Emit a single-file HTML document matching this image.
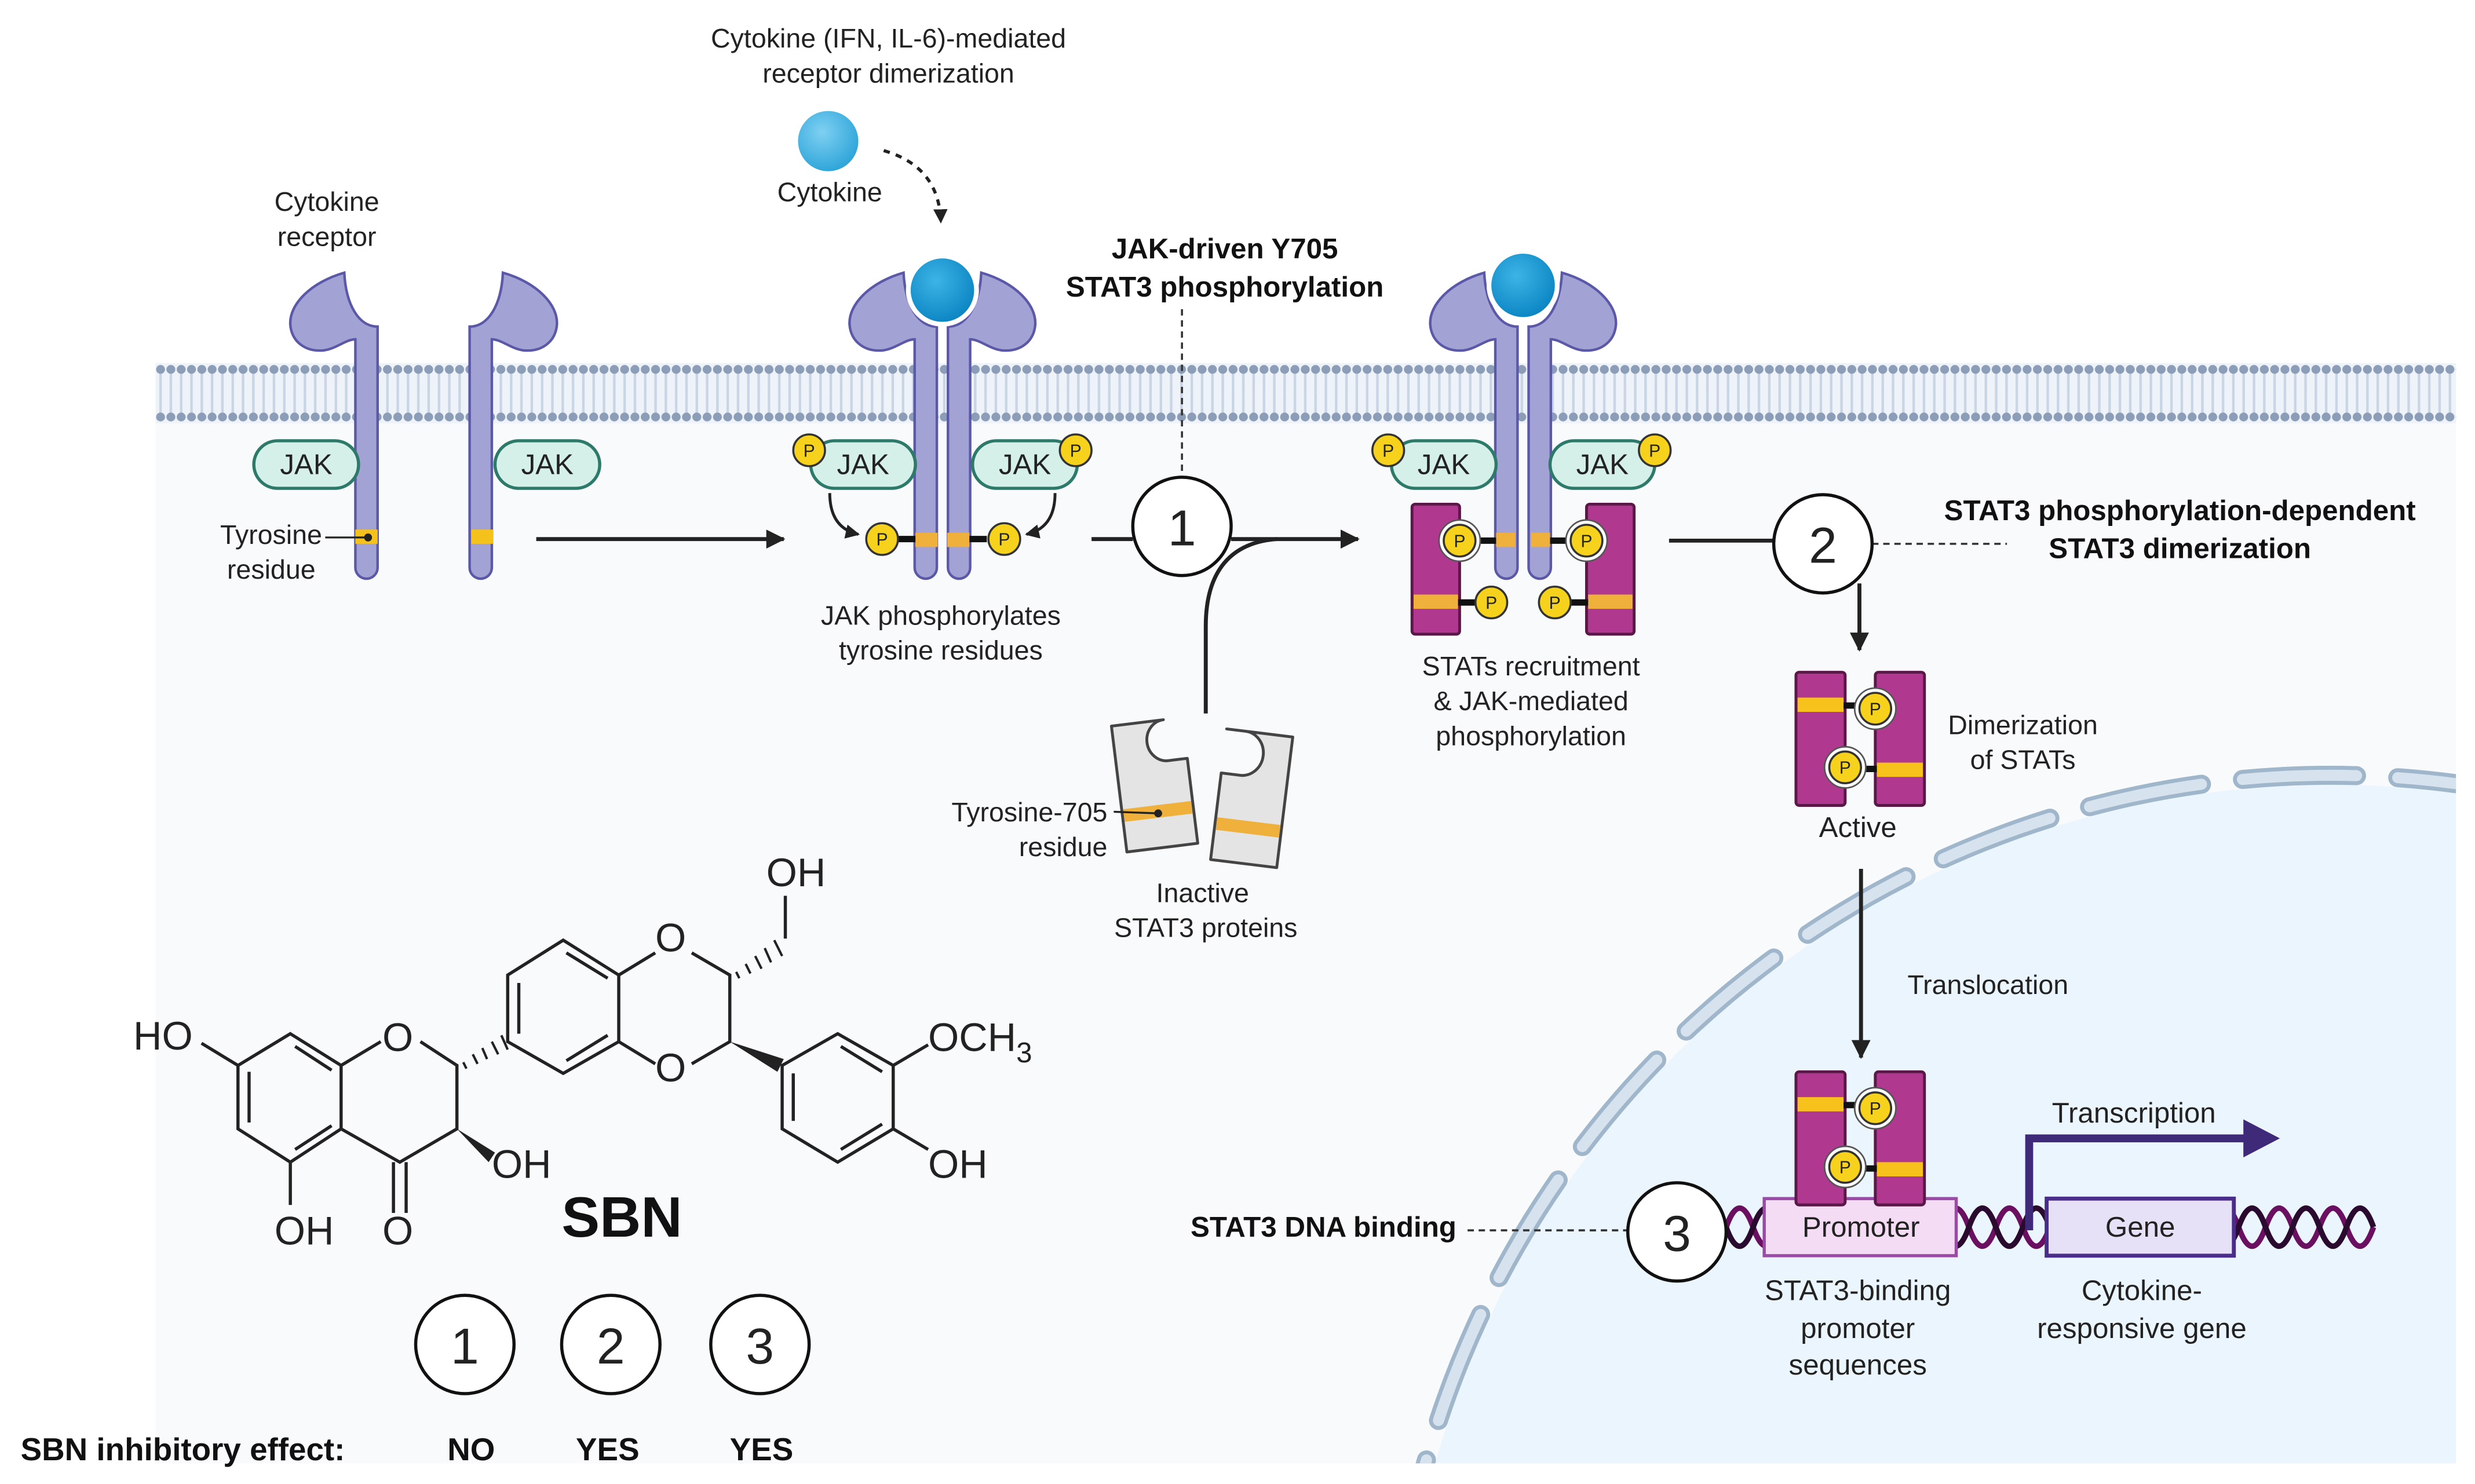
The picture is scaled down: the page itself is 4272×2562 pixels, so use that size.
<!DOCTYPE html>
<html><head><meta charset="utf-8"><style>
html,body{margin:0;padding:0;background:#fff;width:4272px;height:2562px;overflow:hidden}
svg{display:block}
text{font-family:"Liberation Sans",Arial,sans-serif;fill:#222}
.b{font-weight:bold;fill:#111}
</style></head><body>
<svg width="4272" height="2562" viewBox="0 0 1560 936" preserveAspectRatio="none" xmlns="http://www.w3.org/2000/svg">
<defs>
<marker id="ah" markerWidth="14" markerHeight="14" refX="11" refY="6" orient="auto" markerUnits="userSpaceOnUse"><path d="M0,0 L12,6 L0,12 Z" fill="#222"/></marker>
<marker id="ahs" markerWidth="10" markerHeight="10" refX="8" refY="4.5" orient="auto" markerUnits="userSpaceOnUse"><path d="M0,0 L9,4.5 L0,9 Z" fill="#222"/></marker>
<pattern id="dots" x="98" y="0" width="6.5" height="936" patternUnits="userSpaceOnUse">
<line x1="3.2" y1="233" x2="3.2" y2="248" stroke="#c9d5e4" stroke-width="1.6"/>
<line x1="3.2" y1="248" x2="3.2" y2="263" stroke="#c9d5e4" stroke-width="1.6"/>
<circle cx="3.2" cy="233" r="2.8" fill="#8c9db7"/>
<circle cx="3.2" cy="263" r="2.8" fill="#8c9db7"/>
</pattern>
<clipPath id="cell"><rect x="98" y="248" width="1450" height="675"/></clipPath>
<radialGradient id="cyt" cx="0.4" cy="0.35" r="0.7"><stop offset="0" stop-color="#7fd0f2"/><stop offset="1" stop-color="#2aa3d8"/></radialGradient>
<radialGradient id="cyt2" cx="0.4" cy="0.35" r="0.7"><stop offset="0" stop-color="#3cb4e6"/><stop offset="1" stop-color="#0a84c2"/></radialGradient>
<g id="recL">
<path d="M217,172 C196,178 182,192 183,205 C184,216 193,222 204,221 C212,220 218,214 224,214 L224,358 A7,7 0 0 0 238,358 L238,206 C226,206 218,192 217,172 Z" fill="#a3a2d4" stroke="#5b58a8" stroke-width="1.6"/>
</g>
<g id="P"><circle r="10" fill="#f6d21c" stroke="#333" stroke-width="1.3"/><text y="4" text-anchor="middle" font-size="11" fill="#222">P</text></g>
</defs>

<rect x="98" y="248" width="1450" height="675" fill="#f8fafc"/>
<g clip-path="url(#cell)">
<circle cx="1469" cy="1081" r="586" fill="#ebf5fd"/>
<circle cx="1469" cy="1081" r="592" fill="none" stroke="#9fb6cb" stroke-width="12" stroke-dasharray="72 26" stroke-dashoffset="10" stroke-linecap="round"/>
<circle cx="1469" cy="1081" r="592" fill="none" stroke="#d6e3ef" stroke-width="7" stroke-dasharray="72 26" stroke-dashoffset="10" stroke-linecap="round"/>
</g>

<rect x="98" y="229" width="1450" height="38" fill="#eef3f9"/>
<rect x="98" y="229" width="1450" height="38" fill="url(#dots)"/>

<text x="560" y="30" font-size="17" text-anchor="middle">Cytokine (IFN, IL-6)-mediated</text>
<text x="560" y="52" font-size="17" text-anchor="middle">receptor dimerization</text>
<circle cx="522" cy="89" r="19" fill="url(#cyt)"/>
<text x="523" y="127" font-size="17" text-anchor="middle">Cytokine</text>
<path d="M557,95 Q592,105 593,140" fill="none" stroke="#222" stroke-width="2" stroke-dasharray="4 4" marker-end="url(#ahs)"/>
<text x="206" y="133" font-size="17" text-anchor="middle">Cytokine</text>
<text x="206" y="155" font-size="17" text-anchor="middle">receptor</text>

<use href="#recL"/>
<use href="#recL" transform="translate(534,0) scale(-1,1)"/>
<rect x="224" y="334" width="14" height="9" fill="#f5c21b"/>
<rect x="297" y="334" width="14" height="9" fill="#f5c21b"/>
<rect x="160" y="278" width="66" height="30" rx="15" fill="#d5efe9" stroke="#2e7a6a" stroke-width="2"/>
<text x="193" y="299" font-size="18" text-anchor="middle">JAK</text>
<rect x="312" y="278" width="66" height="30" rx="15" fill="#d5efe9" stroke="#2e7a6a" stroke-width="2"/>
<text x="345" y="299" font-size="18" text-anchor="middle">JAK</text>
<circle cx="232" cy="339" r="2.5" fill="#222"/>
<line x1="205" y1="339" x2="232" y2="339" stroke="#222" stroke-width="1.2"/>
<text x="203" y="343" font-size="17" text-anchor="end">Tyrosine</text>
<text x="171" y="365" font-size="17" text-anchor="middle">residue</text>
<line x1="338" y1="340" x2="494" y2="340" stroke="#222" stroke-width="2.5" marker-end="url(#ah)"/>

<use href="#recL" transform="translate(352.5,0)"/>
<use href="#recL" transform="translate(835.5,0) scale(-1,1)"/>
<circle cx="594" cy="183" r="23" fill="#fff"/>
<circle cx="594" cy="183" r="20" fill="url(#cyt2)"/>
<rect x="577" y="336" width="14" height="9" fill="#f0b03c"/>
<rect x="597" y="336" width="14" height="9" fill="#f0b03c"/>
<line x1="566" y1="340" x2="577" y2="340" stroke="#111" stroke-width="4"/>
<line x1="611" y1="340" x2="622" y2="340" stroke="#111" stroke-width="4"/>
<rect x="511" y="278" width="66" height="30" rx="15" fill="#d5efe9" stroke="#2e7a6a" stroke-width="2"/>
<text x="544" y="299" font-size="18" text-anchor="middle">JAK</text>
<rect x="613" y="278" width="66" height="30" rx="15" fill="#d5efe9" stroke="#2e7a6a" stroke-width="2"/>
<text x="646" y="299" font-size="18" text-anchor="middle">JAK</text>
<use href="#P" x="510" y="284"/><use href="#P" x="678" y="284"/>
<use href="#P" x="556" y="340"/><use href="#P" x="633" y="340"/>
<path d="M523,311 Q523,333 541,337" fill="none" stroke="#222" stroke-width="1.8" marker-end="url(#ahs)"/>
<path d="M665,311 Q665,333 647,337" fill="none" stroke="#222" stroke-width="1.8" marker-end="url(#ahs)"/>
<text x="593" y="394" font-size="17" text-anchor="middle">JAK phosphorylates</text>
<text x="593" y="416" font-size="17" text-anchor="middle">tyrosine residues</text>

<text x="772" y="163" font-size="18" class="b" text-anchor="middle">JAK-driven Y705</text>
<text x="772" y="187" font-size="18" class="b" text-anchor="middle">STAT3 phosphorylation</text>
<line x1="745" y1="195" x2="745" y2="300" stroke="#333" stroke-width="1.3" stroke-dasharray="4 3"/>
<line x1="688" y1="340" x2="714" y2="340" stroke="#222" stroke-width="2.5"/>
<line x1="776" y1="340" x2="856" y2="340" stroke="#222" stroke-width="2.5" marker-end="url(#ah)"/>
<path d="M760,450 L760,395 C760,360 776,342 805,340" fill="none" stroke="#222" stroke-width="2.5"/>
<circle cx="745" cy="332" r="31" fill="#fff" stroke="#111" stroke-width="2"/>
<text x="745" y="344" font-size="32" text-anchor="middle">1</text>

<g transform="rotate(-7 727 493)">
<path d="M705,455 L738,455 A12,13 0 0 0 738,481 L750,481 L750,535 L705,535 Z" fill="#e4e4e4" stroke="#444" stroke-width="1.8" stroke-linejoin="round"/>
<rect x="706" y="508" width="43" height="8" fill="#f0b03c"/>
</g>
<g transform="rotate(7 789 503)">
<path d="M768,462 L810,462 L810,545 L768,545 L768,490 L780,490 A12,13 0 0 0 780,462 Z" fill="#e4e4e4" stroke="#444" stroke-width="1.8" stroke-linejoin="round"/>
<rect x="769" y="518" width="40" height="8" fill="#f0b03c"/>
</g>
<circle cx="730" cy="513" r="2.5" fill="#222"/>
<line x1="702" y1="512" x2="730" y2="513" stroke="#222" stroke-width="1.2"/>
<text x="698" y="518" font-size="17" text-anchor="end">Tyrosine-705</text>
<text x="698" y="540" font-size="17" text-anchor="end">residue</text>
<text x="758" y="569" font-size="17" text-anchor="middle">Inactive</text>
<text x="760" y="591" font-size="17" text-anchor="middle">STAT3 proteins</text>

<use href="#recL" transform="translate(718.5,0)"/>
<use href="#recL" transform="translate(1201.5,0) scale(-1,1)"/>
<circle cx="960" cy="180" r="23" fill="#fff"/>
<circle cx="960" cy="180" r="20" fill="url(#cyt2)"/>
<rect x="877" y="278" width="66" height="30" rx="15" fill="#d5efe9" stroke="#2e7a6a" stroke-width="2"/>
<text x="910" y="299" font-size="18" text-anchor="middle">JAK</text>
<rect x="977" y="278" width="66" height="30" rx="15" fill="#d5efe9" stroke="#2e7a6a" stroke-width="2"/>
<text x="1010" y="299" font-size="18" text-anchor="middle">JAK</text>
<use href="#P" x="875" y="284"/><use href="#P" x="1043" y="284"/>
<rect x="890" y="318" width="30" height="82" rx="2" fill="#b0388f" stroke="#5a1848" stroke-width="1.8"/>
<rect x="1000" y="318" width="30" height="82" rx="2" fill="#b0388f" stroke="#5a1848" stroke-width="1.8"/>
<rect x="891" y="375" width="28" height="9" fill="#f0b03c"/>
<rect x="1001" y="375" width="28" height="9" fill="#f0b03c"/>
<rect x="943" y="336" width="12" height="9" fill="#f0b03c"/>
<rect x="965" y="336" width="12" height="9" fill="#f0b03c"/>
<line x1="930" y1="341" x2="943" y2="341" stroke="#111" stroke-width="4"/>
<line x1="977" y1="341" x2="990" y2="341" stroke="#111" stroke-width="4"/>
<line x1="919" y1="380" x2="930" y2="380" stroke="#111" stroke-width="4"/>
<line x1="990" y1="380" x2="1001" y2="380" stroke="#111" stroke-width="4"/>
<circle cx="920" cy="341" r="13" fill="#fff" stroke="#555" stroke-width="1"/>
<circle cx="1000" cy="341" r="13" fill="#fff" stroke="#555" stroke-width="1"/>
<use href="#P" x="920" y="341"/><use href="#P" x="1000" y="341"/>
<use href="#P" x="940" y="380"/><use href="#P" x="980" y="380"/>
<text x="965" y="426" font-size="17" text-anchor="middle">STATs recruitment</text>
<text x="965" y="448" font-size="17" text-anchor="middle">&amp; JAK-mediated</text>
<text x="965" y="470" font-size="17" text-anchor="middle">phosphorylation</text>

<line x1="1052" y1="341" x2="1118" y2="341" stroke="#222" stroke-width="2.5"/>
<line x1="1180" y1="343" x2="1265" y2="343" stroke="#333" stroke-width="1.3" stroke-dasharray="4 3"/>
<line x1="1172" y1="368" x2="1172" y2="410" stroke="#222" stroke-width="2.5" marker-end="url(#ah)"/>
<circle cx="1149" cy="343" r="31" fill="#fff" stroke="#111" stroke-width="2"/>
<text x="1149" y="355" font-size="32" text-anchor="middle">2</text>
<text x="1374" y="328" font-size="18" class="b" text-anchor="middle">STAT3 phosphorylation-dependent</text>
<text x="1374" y="352" font-size="18" class="b" text-anchor="middle">STAT3 dimerization</text>

<g id="dim">
<rect x="1132" y="424" width="31" height="84" rx="2" fill="#b0388f" stroke="#5a1848" stroke-width="1.8"/>
<rect x="1182" y="424" width="31" height="84" rx="2" fill="#b0388f" stroke="#5a1848" stroke-width="1.8"/>
<rect x="1133" y="440" width="29" height="9" fill="#f7c21b"/>
<rect x="1183" y="481" width="29" height="9" fill="#f7c21b"/>
<line x1="1162" y1="445" x2="1172" y2="445" stroke="#111" stroke-width="4"/>
<line x1="1173" y1="485" x2="1183" y2="485" stroke="#111" stroke-width="4"/>
<circle cx="1182" cy="447" r="13" fill="#fff" stroke="#555" stroke-width="1"/>
<circle cx="1163" cy="484" r="13" fill="#fff" stroke="#555" stroke-width="1"/>
<use href="#P" x="1182" y="447"/><use href="#P" x="1163" y="484"/>
</g>
<text x="1171" y="528" font-size="18" text-anchor="middle">Active</text>
<text x="1275" y="463" font-size="17" text-anchor="middle">Dimerization</text>
<text x="1275" y="485" font-size="17" text-anchor="middle">of STATs</text>
<line x1="1173" y1="548" x2="1173" y2="667" stroke="#222" stroke-width="2.5" marker-end="url(#ah)"/>
<text x="1253" y="627" font-size="17" text-anchor="middle">Translocation</text>

<path d="M1088,774 q8.5,-24 17,0 t17,0 t17,0 t17,0 t17,0 t17,0 t17,0 t17,0 t17,0 t17,0 t17,0 t17,0 t17,0 t17,0 t17,0 t17,0 t17,0 t17,0 t17,0 t17,0 t17,0 t17,0 t17,0 t17,0" fill="none" stroke="#6b1060" stroke-width="3.5"/>
<path d="M1088,774 q8.5,24 17,0 t17,0 t17,0 t17,0 t17,0 t17,0 t17,0 t17,0 t17,0 t17,0 t17,0 t17,0 t17,0 t17,0 t17,0 t17,0 t17,0 t17,0 t17,0 t17,0 t17,0 t17,0 t17,0 t17,0" fill="none" stroke="#2b0a30" stroke-width="3.5"/>
<rect x="1112" y="756" width="121" height="36" fill="#f5dcf5" stroke="#9b4aa8" stroke-width="2"/>
<text x="1173" y="780" font-size="18" text-anchor="middle">Promoter</text>
<rect x="1290" y="756" width="118" height="36" fill="#e6e1f7" stroke="#4a2d8a" stroke-width="2.5"/>
<text x="1349" y="780" font-size="18" text-anchor="middle">Gene</text>
<path d="M1279,776 L1279,718 L1418,718" fill="none" stroke="#3f2a7a" stroke-width="5"/>
<path d="M1414,706 L1437,718 L1414,730 Z" fill="#3f2a7a"/>
<text x="1345" y="708" font-size="18" text-anchor="middle">Transcription</text>
<use href="#dim" transform="translate(0,252)"/>
<text x="1171" y="820" font-size="18" text-anchor="middle">STAT3-binding</text>
<text x="1171" y="844" font-size="18" text-anchor="middle">promoter</text>
<text x="1171" y="867" font-size="18" text-anchor="middle">sequences</text>
<text x="1350" y="820" font-size="18" text-anchor="middle">Cytokine-</text>
<text x="1350" y="844" font-size="18" text-anchor="middle">responsive gene</text>

<text x="918" y="780" font-size="18" class="b" text-anchor="end">STAT3 DNA binding</text>
<line x1="925" y1="776" x2="1026" y2="776" stroke="#333" stroke-width="1.3" stroke-dasharray="4 3"/>
<circle cx="1057" cy="777" r="31" fill="#fff" stroke="#111" stroke-width="2"/>
<text x="1057" y="789" font-size="32" text-anchor="middle">3</text>

<g fill="none" stroke="#222" stroke-width="2">
<polygon points="183,652 215,672 215,712 183,733 150,712 150,672"/>
<line x1="157" y1="676" x2="157" y2="708"/><line x1="186" y1="660" x2="209" y2="675"/><line x1="186" y1="725" x2="209" y2="710"/>
<polyline points="215,672 240,657"/><polyline points="265,657 288,672 288,712 252,733 215,712"/>
<line x1="248" y1="733" x2="248" y2="765"/><line x1="256" y1="733" x2="256" y2="765"/>
<line x1="183" y1="733" x2="183" y2="760"/>
<line x1="150" y1="672" x2="127" y2="658"/>
<polygon points="320,615 355,593 390,615 390,657 355,677 320,657"/>
<line x1="327" y1="620" x2="327" y2="652"/><line x1="357" y1="601" x2="383" y2="617"/><line x1="357" y1="669" x2="383" y2="653"/>
<polyline points="390,615 413,601"/><polyline points="436,601 460,615 460,657 436,671"/><polyline points="413,671 390,657"/>
<polygon points="493,672 528,652 563,672 563,712 528,733 493,712"/>
<line x1="500" y1="677" x2="500" y2="707"/><line x1="530" y1="660" x2="556" y2="676"/><line x1="530" y1="725" x2="556" y2="709"/>
<line x1="563" y1="672" x2="585" y2="659"/><line x1="563" y1="712" x2="585" y2="725"/>
<line x1="495" y1="592" x2="495" y2="565"/>
</g>
<g stroke="#222" stroke-width="1.5">
<line x1="292" y1="670" x2="294" y2="674"/><line x1="298" y1="665" x2="301" y2="671"/><line x1="304" y1="661" x2="307" y2="668"/><line x1="310" y1="657" x2="314" y2="665"/><line x1="316" y1="653" x2="320" y2="662"/>
<line x1="464" y1="613" x2="466" y2="617"/><line x1="470" y1="608" x2="473" y2="614"/><line x1="476" y1="603" x2="480" y2="611"/><line x1="482" y1="598" x2="486" y2="607"/><line x1="488" y1="593" x2="493" y2="603"/>
</g>
<polygon points="288,712 312,727 308,733" fill="#222"/>
<polygon points="460,657 494,668 490,676" fill="#222"/>
<g font-size="25" fill="#222">
<text x="84" y="662">HO</text>
<text x="241" y="663">O</text>
<text x="413" y="600">O</text>
<text x="413" y="682">O</text>
<text x="483" y="559">OH</text>
<text x="310" y="743">OH</text>
<text x="173" y="785">OH</text>
<text x="241" y="785">O</text>
<text x="585" y="663">OCH<tspan font-size="18" dy="7">3</tspan></text>
<text x="585" y="743">OH</text>
</g>
<text x="392" y="780" font-size="36" class="b" text-anchor="middle">SBN</text>

<circle cx="293" cy="848" r="31" fill="#fff" stroke="#111" stroke-width="2"/>
<text x="293" y="860" font-size="32" text-anchor="middle">1</text>
<circle cx="385" cy="848" r="31" fill="#fff" stroke="#111" stroke-width="2"/>
<text x="385" y="860" font-size="32" text-anchor="middle">2</text>
<circle cx="479" cy="848" r="31" fill="#fff" stroke="#111" stroke-width="2"/>
<text x="479" y="860" font-size="32" text-anchor="middle">3</text>
<text x="13" y="921" font-size="20" class="b">SBN inhibitory effect:</text>
<text x="297" y="921" font-size="20" class="b" text-anchor="middle">NO</text>
<text x="383" y="921" font-size="20" class="b" text-anchor="middle">YES</text>
<text x="480" y="921" font-size="20" class="b" text-anchor="middle">YES</text>
</svg>
</body></html>
